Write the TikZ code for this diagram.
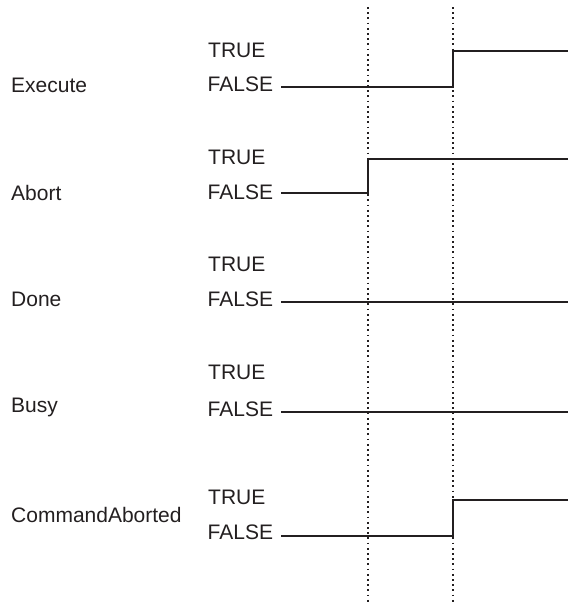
\documentclass[tikz,border=0pt]{standalone}
\usepackage{fontspec}
\setmainfont{Liberation Sans}
\definecolor{ink}{RGB}{35,31,32}
\begin{document}
\begin{tikzpicture}[x=1pt,y=-1pt,
  lbl/.style={anchor=base west,inner sep=0pt,text=ink,font=\fontsize{21}{24}\selectfont},
  sig/.style={draw=ink,line width=2pt,line join=miter},
  timeline/.style={draw=ink,line width=1.7pt,dash pattern=on 1.8pt off 3.4pt}]
\useasboundingbox (0,0) rectangle (568,605);
% time markers
\coordinate (m1t) at (368.3,7);
\coordinate (m1b) at (368.3,605);
\coordinate (m2t) at (452.7,7);
\coordinate (m2b) at (452.7,605);
\draw[timeline] (m1t) -- (m1b);
\draw[timeline] (m2t) -- (m2b);
% Execute
\node[lbl] (nE) at (11,92) {Execute};
\node[lbl] (tE) at (208,57.5) {TRUE};
\node[lbl] (fE) at (207.5,91.5) {FALSE};
\coordinate (e0) at (281,87.3);
\coordinate (e1) at (452.7,87.3);
\coordinate (e2) at (452.7,50.7);
\coordinate (e3) at (568,50.7);
\draw[sig] (e0) -- (e1) -- (e2) -- (e3);
% Abort
\node[lbl] (nA) at (11,200) {Abort};
\node[lbl] (tA) at (208,164.5) {TRUE};
\node[lbl] (fA) at (207.5,199.2) {FALSE};
\coordinate (a0) at (281,193.3);
\coordinate (a1) at (368.3,193.3);
\coordinate (a2) at (368.3,159);
\coordinate (a3) at (568,159);
\draw[sig] (a0) -- (a1) -- (a2) -- (a3);
% Done
\node[lbl] (nD) at (11,306.5) {Done};
\node[lbl] (tD) at (208,271.5) {TRUE};
\node[lbl] (fD) at (207.5,306.5) {FALSE};
\coordinate (d0) at (281,302.3);
\coordinate (d1) at (568,302.3);
\draw[sig] (d0) -- (d1);
% Busy
\node[lbl] (nB) at (11,412.2) {Busy};
\node[lbl] (tB) at (208,379.5) {TRUE};
\node[lbl] (fB) at (207.5,416.2) {FALSE};
\coordinate (b0) at (281,412.3);
\coordinate (b1) at (568,412.3);
\draw[sig] (b0) -- (b1);
% CommandAborted
\node[lbl] (nC) at (11,522.5) {CommandAborted};
\node[lbl] (tC) at (208,504.2) {TRUE};
\node[lbl] (fC) at (207.5,539.5) {FALSE};
\coordinate (c0) at (281,535.7);
\coordinate (c1) at (452.7,535.7);
\coordinate (c2) at (452.7,500);
\coordinate (c3) at (568,500);
\draw[sig] (c0) -- (c1) -- (c2) -- (c3);
\end{tikzpicture}
\end{document}
